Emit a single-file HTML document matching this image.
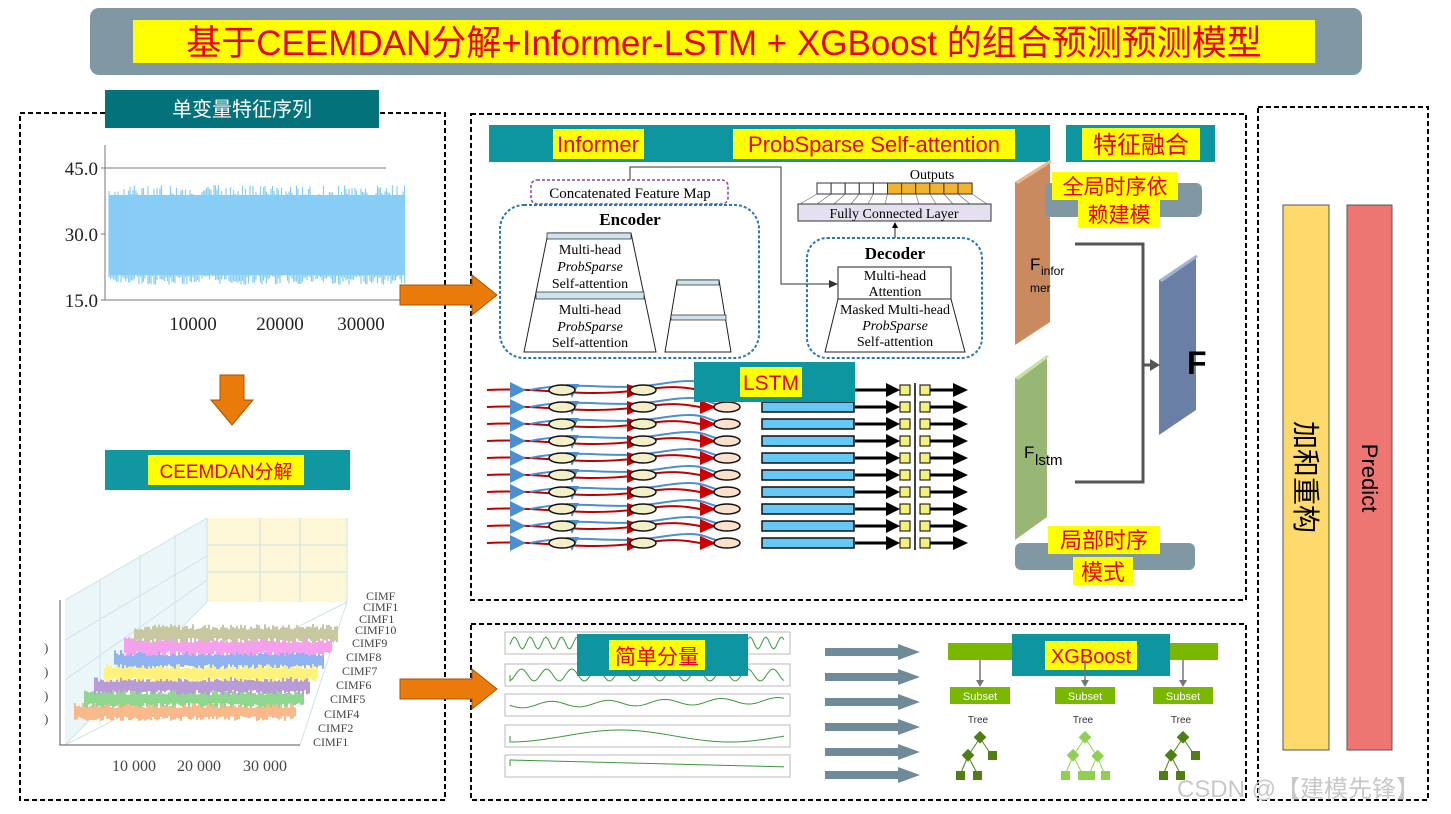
<!DOCTYPE html>
<html><head><meta charset="utf-8"><style>
html,body{margin:0;padding:0;background:#fff;width:1451px;height:814px;overflow:hidden}
svg{display:block}
text{font-family:"Liberation Sans","Noto Sans CJK SC",sans-serif}
.serif{font-family:"Liberation Serif","Noto Serif CJK SC",serif}
</style></head><body>
<svg id="s" width="1451" height="814" viewBox="0 0 1451 814" xmlns="http://www.w3.org/2000/svg">
<rect x="90" y="8" width="1272" height="67" rx="9" fill="#7f98a4"/>
<rect x="133" y="20" width="1182" height="43" fill="#ffff00"/>
<text x="724" y="55" font-size="35" fill="#e8001c" text-anchor="middle">基于CEEMDAN分解+Informer-LSTM + XGBoost 的组合预测预测模型</text>

<g fill="none" stroke="#000" stroke-width="2" stroke-dasharray="5,3">
<rect x="20" y="113" width="425" height="687"/>
<rect x="471" y="114" width="775" height="486"/>
<rect x="471" y="624" width="775" height="176"/>
<rect x="1258" y="107" width="170" height="693"/>
</g>

<rect x="105" y="90" width="274" height="38" fill="#03727a"/>
<text x="242" y="116" font-size="20" fill="#fff" text-anchor="middle">单变量特征序列</text>

<g class="serif" font-size="19" fill="#222">
<text x="98" y="175" text-anchor="end" class="serif">45.0</text>
<text x="98" y="241" text-anchor="end" class="serif">30.0</text>
<text x="98" y="307" text-anchor="end" class="serif">15.0</text>
<text x="193" y="330" text-anchor="middle" class="serif">10000</text>
<text x="280" y="330" text-anchor="middle" class="serif">20000</text>
<text x="361" y="330" text-anchor="middle" class="serif">30000</text>
</g>
<path d="M105 145 V300 H405 M105 168 H386" fill="none" stroke="#777" stroke-width="1"/>
<path d="M105 234 h-4 M105 168h-4 M105 300h-4" stroke="#777"/>
<rect x="109" y="195" width="296" height="80" fill="#87cdf5"/>
<g id="noise1" stroke="#87cdf5" stroke-width="1.2"></g>

<path d="M220 375 H244 V400 H253 L232 425 L211 400 H220 Z" fill="#ea7b0a" stroke="#a85200" stroke-width="1"/>

<rect x="105" y="450" width="245" height="40" fill="#10979f"/>
<rect x="148" y="455" width="156" height="30" fill="#ffff00"/>
<text x="226" y="478" font-size="19" fill="#e8001c" text-anchor="middle">CEEMDAN分解</text>

<polygon points="207,518 347,518 347,602 207,602" fill="#fdf7d8"/>
<polygon points="65,600 207,518 207,602 65,745" fill="#eaf6f8"/>
<g stroke="#cfe3e8" stroke-width="1" fill="none">
<path d="M207 518 V602 M260 518 V602 M300 518V602 M347 518 V602 M207 545 H347 M207 572 H347"/>
<path d="M65 600 L207 518 M65 640 L207 556 M65 680 L207 580 M65 745 L207 602 M100 580 V725 M140 555 V700 M175 535 V680"/>
<path d="M65 745 L347 602 M65 745 H300 M300 745 L347 602"/>
</g>
<path d="M60 600 V745 H300" fill="none" stroke="#555"/>
<g id="bands"></g>
<g class="serif" font-size="12" fill="#444">
<text x="366" y="600" class="serif">CIMF</text><text x="363" y="611" class="serif">CIMF1</text>
<text x="359" y="623" class="serif">CIMF1</text><text x="355" y="634" class="serif">CIMF10</text>
<text x="352" y="647" class="serif">CIMF9</text><text x="346" y="661" class="serif">CIMF8</text>
<text x="342" y="675" class="serif">CIMF7</text><text x="336" y="689" class="serif">CIMF6</text>
<text x="330" y="703" class="serif">CIMF5</text><text x="324" y="718" class="serif">CIMF4</text>
<text x="318" y="732" class="serif">CIMF2</text><text x="313" y="746" class="serif">CIMF1</text>
<text x="112" y="771" font-size="16" class="serif">10 000</text>
<text x="177" y="771" font-size="16" class="serif">20 000</text>
<text x="243" y="771" font-size="16" class="serif">30 000</text>
<text x="44" y="652" font-size="13" class="serif">)</text><text x="44" y="676" font-size="13" class="serif">)</text>
<text x="44" y="700" font-size="13" class="serif">)</text><text x="44" y="723" font-size="13" class="serif">)</text>
</g>

<path d="M400 285 H472 V275 L497 295 L472 315 V305 H400 Z" fill="#ea7b0a" stroke="#a85200"/>
<path d="M400 679 H472 V669 L497 689 L472 709 V699 H400 Z" fill="#ea7b0a" stroke="#a85200"/>

<rect x="489" y="125" width="561" height="37" fill="#0e96a0"/>
<rect x="553" y="129" width="91" height="30" fill="#ffff00"/>
<text x="598" y="152" font-size="22" fill="#e8001c" text-anchor="middle">Informer</text>
<rect x="733" y="129" width="282" height="30" fill="#ffff00"/>
<text x="874" y="152" font-size="22" fill="#e8001c" text-anchor="middle">ProbSparse Self-attention</text>
<rect x="1066" y="125" width="149" height="37" fill="#0e96a0"/>
<rect x="1082" y="128" width="118" height="32" fill="#ffff00"/>
<text x="1141" y="153" font-size="24" fill="#e8001c" text-anchor="middle">特征融合</text>

<!-- Encoder/decoder -->
<path d="M630 180 V167 H781 V284 H830" fill="none" stroke="#333"/>
<path d="M829 280 L838 284 L829 288Z" fill="#333"/>
<rect x="531" y="180" width="197" height="24" rx="6" fill="none" stroke="#8a3fa8" stroke-width="1.5" stroke-dasharray="3,2"/>
<text x="630" y="198" font-size="15" text-anchor="middle" class="serif">Concatenated Feature Map</text>
<rect x="500" y="205" width="259" height="153" rx="24" fill="none" stroke="#2a77b5" stroke-width="2" stroke-dasharray="3,2"/>
<text x="630" y="225" font-size="17" font-weight="bold" text-anchor="middle" class="serif">Encoder</text>
<path d="M548 233 H631 L656 352 H524 Z" fill="#fff" stroke="#222"/>
<rect x="547" y="233" width="84" height="6" fill="#cfe3ec" stroke="#222" stroke-width=".7"/>
<rect x="536" y="292" width="108" height="7" fill="#cfe3ec" stroke="#222" stroke-width=".7"/>
<g font-size="14" text-anchor="middle" class="serif">
<text x="590" y="254" class="serif">Multi-head</text><text x="590" y="271" font-style="italic" class="serif">ProbSparse</text><text x="590" y="288" class="serif">Self-attention</text>
<text x="590" y="314" class="serif">Multi-head</text><text x="590" y="331" font-style="italic" class="serif">ProbSparse</text><text x="590" y="347" class="serif">Self-attention</text>
</g>
<path d="M677 280 H719 L731 352 H665 Z" fill="#fff" stroke="#222"/>
<rect x="677" y="280" width="42" height="5" fill="#cfe3ec" stroke="#222" stroke-width=".7"/>
<rect x="671" y="315" width="55" height="5" fill="#cfe3ec" stroke="#222" stroke-width=".7"/>

<text x="932" y="179" font-size="14" text-anchor="middle" class="serif">Outputs</text>
<g id="outs"></g>
<rect x="798" y="204" width="193" height="17" fill="#e5e0ef" stroke="#333"/>
<text x="894" y="218" font-size="14" text-anchor="middle" class="serif">Fully Connected Layer</text>
<path d="M895 238 V226" stroke="#222"/><path d="M892 228 L895 222 L898 228Z"/>
<rect x="807" y="238" width="175" height="120" rx="20" fill="none" stroke="#2a77b5" stroke-width="2" stroke-dasharray="3,2"/>
<text x="895" y="259" font-size="17" font-weight="bold" text-anchor="middle" class="serif">Decoder</text>
<path d="M838 299 H951 L965 352 H825 Z" fill="#fff" stroke="#222"/>
<rect x="838" y="267" width="113" height="32" fill="#fff" stroke="#222"/>
<g font-size="14" text-anchor="middle" class="serif">
<text x="895" y="280" class="serif">Multi-head</text><text x="895" y="296" class="serif">Attention</text>
<text x="895" y="314" class="serif">Masked Multi-head</text><text x="895" y="330" font-style="italic" class="serif">ProbSparse</text><text x="895" y="346" class="serif">Self-attention</text>
</g>

<g id="lstm"></g>
<rect x="694" y="362" width="161" height="40" fill="#0e96a0"/>
<rect x="740" y="367" width="62" height="30" fill="#ffff00"/>
<text x="771" y="390" font-size="21" fill="#e8001c" text-anchor="middle">LSTM</text>

<polygon points="1015,182 1050,160 1050,322 1015,345" fill="#c98a5f"/>
<polygon points="1015,182 1050,160 1052,162 1018,184" fill="#f0b58a"/>
<polygon points="1015,378 1047,355 1047,517 1015,540" fill="#98b774"/>
<polygon points="1015,378 1047,355 1049,357 1018,380" fill="#c6e3a0"/>
<polygon points="1159,280 1196,255 1196,410 1159,435" fill="#6a7fa6"/>
<polygon points="1159,280 1196,255 1198,257 1162,282" fill="#9fb4d8"/>
<text x="1030" y="270" font-size="17">F</text><text x="1041" y="275" font-size="12">infor</text><text x="1030" y="292" font-size="12">mer</text>
<text x="1024" y="458" font-size="17">F</text><text x="1035" y="465" font-size="15">lstm</text>
<text x="1187" y="374" font-size="32" font-weight="bold">F</text>
<path d="M1075 244 H1143 V482 H1075" fill="none" stroke="#555" stroke-width="3"/>
<path d="M1143 365 H1152" stroke="#555" stroke-width="3"/><path d="M1150 359 L1160 365 L1150 371Z" fill="#555"/>
<rect x="1045" y="183" width="157" height="34" rx="6" fill="#7f98a4"/>
<rect x="1052" y="172" width="126" height="28" fill="#ffff00"/>
<rect x="1078" y="200" width="82" height="28" fill="#ffff00"/>
<text x="1115" y="194" font-size="21" fill="#e8001c" text-anchor="middle">全局时序依</text>
<text x="1119" y="222" font-size="21" fill="#e8001c" text-anchor="middle">赖建模</text>
<rect x="1015" y="543" width="180" height="27" rx="6" fill="#7f98a4"/>
<rect x="1048" y="526" width="112" height="28" fill="#ffff00"/>
<rect x="1073" y="557" width="60" height="28" fill="#ffff00"/>
<text x="1104" y="548" font-size="22" fill="#e8001c" text-anchor="middle">局部时序</text>
<text x="1103" y="580" font-size="22" fill="#e8001c" text-anchor="middle">模式</text>

<rect x="1283" y="205" width="46" height="545" fill="#fed96b" stroke="#555"/>
<rect x="1347" y="205" width="45" height="545" fill="#ee7672" stroke="#555"/>
<text transform="translate(1296,477) rotate(90)" font-size="28" text-anchor="middle">加和重构</text>
<text transform="translate(1362,478) rotate(90)" font-size="22" text-anchor="middle">Predict</text>

<g id="waves"></g>
<rect x="577" y="634" width="171" height="42" fill="#0e96a0"/>
<rect x="609" y="640" width="96" height="30" fill="#ffff00"/>
<text x="657" y="664" font-size="21" fill="#e8001c" text-anchor="middle">简单分量</text>
<g id="garrows"></g>
<rect x="948" y="643" width="270" height="17" fill="#7ab800"/>
<rect x="1012" y="634" width="158" height="42" fill="#0e96a0"/>
<rect x="1045" y="641" width="92" height="29" fill="#ffff00"/>
<text x="1091" y="663" font-size="20" fill="#e8001c" text-anchor="middle">XGBoost</text>
<g id="xg"></g>
<text x="1420" y="797" font-size="24" fill="#c8c8c8" text-anchor="end">CSDN @【建模先锋】</text>
</svg>
<script>
var NS="http://www.w3.org/2000/svg";
function el(p,t,a){var e=document.createElementNS(NS,t);for(var k in a)e.setAttribute(k,a[k]);document.getElementById(p).appendChild(e);return e;}
var seed=3;function r(){seed=(seed*9301+49297)%233280;return seed/233280;}
for(var x=109;x<405;x+=1.5){var t=185+r()*18,b=275+r()*10;el("noise1","line",{x1:x,y1:t,x2:x,y2:b});}
var cols=["#f9b98a","#8fd68f","#b99bd8","#fff27a","#8fb2f0","#f5a0ec","#c8c8a0"];
for(var i=0;i<7;i++){var y=712-i*13,x0=75+i*10,x1=297+i*7;
 for(var x=x0;x<x1;x+=2){el("bands","line",{x1:x,y1:y-4-r()*6,x2:x,y2:y+4+r()*5,stroke:cols[i],"stroke-width":2});}}
for(var i=0;i<11;i++){el("outs","rect",{x:817+i*14.1,y:183,width:14.1,height:11,fill:i>=5?"#f2b331":"#fff",stroke:"#333","stroke-width":1});}
for(var i=0;i<12;i++){el("outs","line",{x1:817+i*14.1,y1:194,x2:800+i*17,y2:204,stroke:"#666","stroke-width":.6});}
for(var i=0;i<10;i++){var y=390+i*17;
 el("lstm","path",{d:"M487 "+y+" C540 "+(y-3)+" 580 "+(y+8)+" 640 "+y+" S690 "+(y+4)+" 720 "+y,stroke:"#c00000",fill:"none","stroke-width":2});
 el("lstm","path",{d:"M530 "+y+" C580 "+(y-10)+" 610 "+(y+2)+" 660 "+(y-6)+" S700 "+(y-4)+" 730 "+y,stroke:"#4a8fd0",fill:"none","stroke-width":2});
 el("lstm","polygon",{points:"510,"+(y-8)+" 526,"+y+" 510,"+(y+8),fill:"#4a8fd0"});
 el("lstm","polygon",{points:"566,"+(y-6)+" 579,"+(y-6)+" 572,"+(y+8),fill:"#4a8fd0"});
 el("lstm","polygon",{points:"627,"+(y-6)+" 645,"+y+" 627,"+(y+8),fill:"#cc0000"});
 el("lstm","polygon",{points:"700,"+(y-7)+" 716,"+y+" 700,"+(y+7),fill:"#cc0000"});
 el("lstm","ellipse",{cx:562,cy:y,rx:13,ry:5,fill:"#f3f0c8",stroke:"#111","stroke-width":1.5});
 el("lstm","ellipse",{cx:643,cy:y,rx:13,ry:5,fill:"#f3f0c8",stroke:"#111","stroke-width":1.5});
 el("lstm","ellipse",{cx:727,cy:y,rx:13,ry:5,fill:"#fbe0cc",stroke:"#111","stroke-width":1.5});
 el("lstm","rect",{x:762,y:y-5,width:92,height:10,fill:"#66c8f5",stroke:"#111","stroke-width":1.5});
 el("lstm","path",{d:"M855 "+y+" H888",stroke:"#000","stroke-width":3});
 el("lstm","polygon",{points:"886,"+(y-7)+" 900,"+y+" 886,"+(y+7),fill:"#000"});
 el("lstm","rect",{x:900,y:y-5,width:10,height:10,fill:"#f5f07a",stroke:"#000"});
 el("lstm","rect",{x:920,y:y-5,width:10,height:10,fill:"#f5f07a",stroke:"#000"});
 el("lstm","path",{d:"M930 "+y+" H955",stroke:"#000","stroke-width":3});
 el("lstm","polygon",{points:"953,"+(y-7)+" 968,"+y+" 953,"+(y+7),fill:"#000"});}
el("lstm","path",{d:"M915 383 V550",stroke:"#000","stroke-width":1.5});
var wy=[640,672,702,733,763];
for(var i=0;i<5;i++){var y=wy[i];el("waves","rect",{x:505,y:y-8,width:285,height:22,fill:"#fff",stroke:"#aaa","stroke-width":.8});
 var d="M510 "+(y+3);for(var x=510;x<785;x+=2){var v;if(i<2)v=Math.sin(x/(2.5+i*1.5))*6;else if(i==2)v=Math.sin(x/9)*3-(x-510)/60;else if(i==3)v=Math.cos((x-510)/35)*6;else v=(x-510)/40-6;d+=" L"+x+" "+(y+3+v);}
 el("waves","path",{d:d,stroke:"#3a9a3a",fill:"none","stroke-width":1});}
var ay=[652,677,702,727,752,775];
for(var i=0;i<6;i++){var y=ay[i];el("garrows","rect",{x:825,y:y-4,width:75,height:8,fill:"#6f8a99"});el("garrows","polygon",{points:"898,"+(y-8)+" 920,"+y+" 898,"+(y+8),fill:"#6f8a99"});}
var sx=[980,1085,1183];var tc=["#4f7f14","#8fd050","#4f7f14"];
for(var i=0;i<3;i++){var c=sx[i];
 el("xg","line",{x1:c,y1:660,x2:c,y2:682,stroke:"#777","stroke-width":1.5});
 el("xg","polygon",{points:(c-4)+",680 "+(c+4)+",680 "+c+",687",fill:"#777"});
 el("xg","rect",{x:c-30,y:687,width:60,height:17,fill:"#7ab800"});
 var t=el("xg","text",{x:c,y:700,"font-size":11,fill:"#fff","text-anchor":"middle"});t.textContent="Subset";
 var t2=el("xg","text",{x:c-2,y:723,"font-size":10,fill:"#333","text-anchor":"middle"});t2.textContent="Tree";
 var col=tc[i];
 el("xg","path",{d:"M"+c+" 738 L"+(c-12)+" 756 L"+(c-20)+" 775 M"+(c-12)+" 756 L"+(c-2)+" 775 M"+c+" 738 L"+(c+12)+" 756"+(i==1?" L"+(c+20)+" 775 M"+(c+12)+" 756 L"+(c+4)+" 775":""),stroke:col,fill:"none"});
 el("xg","rect",{x:c-5,y:733,width:9,height:9,fill:col,transform:"rotate(45 "+c+" 738)"});
 el("xg","rect",{x:c-17,y:751,width:9,height:9,fill:col,transform:"rotate(45 "+(c-12)+" 756)"});
 el("xg","rect",{x:c+8,y:751,width:9,height:9,fill:col,transform:i==1?"rotate(45 "+(c+12)+" 756)":""});
 el("xg","rect",{x:c-24,y:771,width:9,height:9,fill:col});el("xg","rect",{x:c-7,y:771,width:9,height:9,fill:col});
 if(i==1){el("xg","rect",{x:c+1,y:771,width:9,height:9,fill:col});el("xg","rect",{x:c+16,y:771,width:9,height:9,fill:col});}}
</script>
</body></html>
